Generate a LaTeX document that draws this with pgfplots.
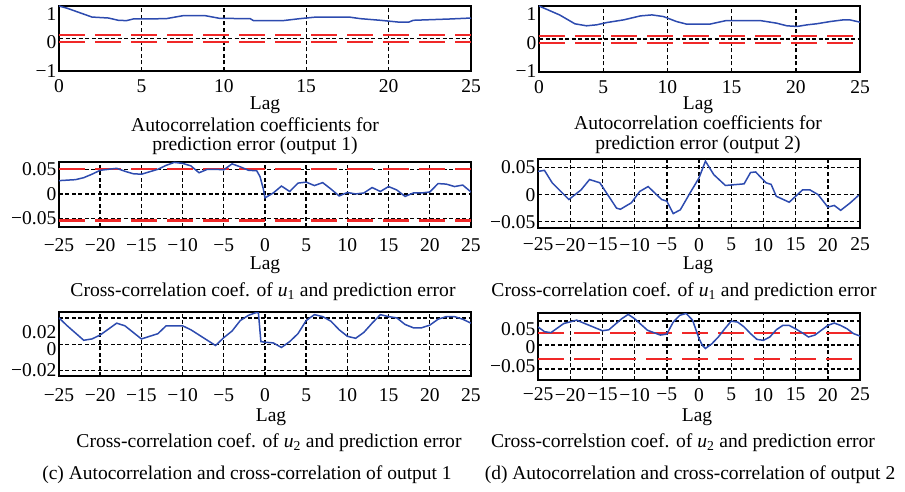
\documentclass[border=0pt]{standalone}
\usepackage{pgfplots}
\pgfplotsset{compat=1.18}
\usepackage{fontspec}
\setmainfont{Liberation Serif}
\definecolor{mblue}{RGB}{45,75,175}
\definecolor{mred}{RGB}{240,40,40}
\newcommand\fs{\fontsize{19.5}{21}\selectfont}
\newcommand\fc{\fontsize{19.6}{22}\selectfont}
\newcommand\fd{\fontsize{19.5}{22}\selectfont}
\pgfplotsset{
  panel/.style={
    scale only axis, anchor=south west,
    axis line style={line width=2.2pt, black},
    major tick length=0pt,
    xmajorgrids,
    scaled y ticks=false, scaled x ticks=false,
    major grid style={black, line width=1.4pt, dash pattern=on 4pt off 2.5pt},
    tick label style={font=\fs},
    yticklabel style={inner xsep=2.5pt, inner ysep=0pt},
    extra y tick style={grid=major},
    extra y tick labels={},
  },
  bl/.style={mblue, line width=1.5pt},
  rd/.style={mred, line width=2.2pt, dash pattern=on 26pt off 10pt},
  sym/.style={xmin=-25,xmax=25,xtick={-25,-20,...,25},
    xticklabels={−25,−20,−15,−10,−5,0,5,10,15,20,25}},
}
\begin{document}
\begin{tikzpicture}[x=1pt,y=1pt]
\useasboundingbox (0pt,0pt) rectangle (905pt,491pt);
% ---------- panel 1
\begin{axis}[panel, at={(59pt,420pt)}, width=412pt, height=65pt,
  xmin=0,xmax=25,ymin=-1,ymax=1,
  xtick={0,5,...,25}, xticklabels={0,5,10,15,20,25},
  ytick={-1,-0.108,0.754}, yticklabels={−1,0,1},
  extra y ticks={0}, xticklabel style={yshift=-5pt}]
\addplot[rd] coordinates {(0,0.117) (25,0.117)};
\addplot[rd] coordinates {(0,-0.117) (25,-0.117)};
\addplot[bl] coordinates {(0,1) (0.5,0.93) (1,0.84) (1.5,0.75) (2,0.66) (3,0.63) (3.6,0.56) (4.1,0.55) (4.5,0.6) (6.5,0.61) (7.5,0.7) (8.9,0.7) (9.75,0.62) (11.6,0.61) (11.8,0.55) (13.6,0.55) (14.6,0.61) (15.6,0.66) (17.6,0.66) (18.3,0.61) (19.5,0.56) (20.7,0.5) (21.2,0.5) (21.5,0.56) (23.7,0.6) (25,0.63)};
\end{axis}
% ---------- panel 2
\begin{axis}[panel, at={(539pt,419pt)}, width=321pt, height=66pt,
  xmin=0,xmax=25,ymin=-1,ymax=1,
  xtick={0,5,...,25}, xticklabels={0,5,10,15,20,25},
  ytick={-0.97,-0.112,0.758}, yticklabels={−1,0,1},
  extra y ticks={0}, xticklabel style={yshift=-5pt}]
\addplot[rd] coordinates {(0,0.09) (25,0.09)};
\addplot[rd] coordinates {(0,-0.13) (25,-0.13)};
\addplot[bl] coordinates {(0,1) (1.6,0.73) (2.8,0.46) (3.7,0.4) (4.5,0.43) (5.3,0.5) (6.6,0.58) (7.9,0.7) (8.8,0.73) (9.7,0.68) (10.7,0.53) (11.5,0.45) (13.3,0.45) (14.6,0.56) (17.2,0.56) (18.5,0.48) (19.3,0.4) (20.1,0.38) (20.9,0.43) (21.6,0.46) (22.7,0.53) (23.7,0.58) (24.2,0.58) (25,0.51)};
\end{axis}
% ---------- panel 3
\begin{axis}[panel, sym, at={(59pt,264pt)}, width=412pt, height=65pt,
  ymin=-0.067,ymax=0.0648,
  ytick={-0.05,0,0.05}, yticklabels={−0.05,0,0.05},
  extra y ticks={-0.05,0,0.05}, xticklabel style={yshift=-8pt}]
\addplot[rd] coordinates {(-25,0.05) (25,0.05)};
\addplot[rd] coordinates {(-25,-0.054) (25,-0.054)};
\addplot[bl] coordinates {(-25,0.027) (-24,0.028) (-23,0.029) (-22,0.033) (-21,0.04) (-20,0.048) (-19,0.05) (-18,0.052) (-17,0.046) (-16,0.041) (-15,0.04) (-14,0.045) (-13,0.05) (-12,0.058) (-11,0.064) (-10,0.062) (-9,0.057) (-8,0.043) (-7,0.05) (-6,0.05) (-5,0.049) (-4,0.061) (-3,0.055) (-2,0.048) (-1,0.047) (-0.6,0.035) (-0.2,0.01) (0,-0.008) (1,0.002) (2,0.016) (3,0.005) (4,0.022) (5,0.024) (6,0.017) (7,0.023) (8,0.01) (9,-0.004) (10,0.003) (11,0) (12,0.002) (13,0.013) (14,0.005) (15,0.015) (16,0.008) (17,-0.005) (18,0.002) (19,0.002) (20,0.004) (21,0.021) (22,0.02) (23,0.015) (24,0.018) (25,0.004)};
\end{axis}
% ---------- panel 4
\begin{axis}[panel, sym, at={(538pt,263pt)}, width=322pt, height=69pt,
  ymin=-0.0617,ymax=0.066,
  ytick={-0.05,0,0.05}, yticklabels={−0.05,0,0.05},
  extra y ticks={-0.05,0,0.05}, xticklabel style={yshift=-6.5pt}]
\addplot[bl] coordinates {(-25,0.043) (-24,0.045) (-22.8,0.022) (-20.2,-0.009) (-18.3,0.009) (-17,0.028) (-15.4,0.022) (-12.8,-0.025) (-12.2,-0.027) (-10.5,-0.015) (-9.2,0.006) (-7.9,0.015) (-5.8,-0.009) (-5,-0.012) (-4,-0.035) (-2.9,-0.028) (-1.4,0.003) (0,0.031) (1,0.062) (2.3,0.037) (4.1,0.017) (7,0.020) (8,0.041) (8.8,0.042) (10.4,0.022) (11.2,0.019) (12,-0.003) (14,-0.014) (16.1,0.009) (17.2,0.009) (18.5,0) (20,-0.023) (21,-0.020) (22,-0.029) (23.5,-0.015) (24.8,-0.001)};
\end{axis}
% ---------- panel 5
\begin{axis}[panel, sym, at={(59pt,115pt)}, width=412pt, height=64pt,
  ymin=-0.0242,ymax=0.0245,
  ytick={-0.0197,-0.004,0.0093}, yticklabels={−0.02,0,0.02},
  extra y ticks={-0.02,0,0.02}, xticklabel style={yshift=-9pt}]
\addplot[bl] coordinates {(-25,0.02) (-24,0.014) (-22,0.003) (-21,0.004) (-20,0.007) (-18,0.016) (-17,0.014) (-16,0.009) (-15,0.004) (-14,0.006) (-13,0.008) (-12,0.014) (-10,0.014) (-9,0.011) (-7,0.003) (-6,-0.001) (-5,0.005) (-4,0.01) (-3,0.018) (-2,0.022) (-1.1,0.024) (-0.8,0.024) (-0.5,0.002) (0,0.0015) (1,0.001) (2,-0.0025) (3,0.002) (4,0.008) (5,0.018) (6,0.0225) (7,0.021) (8,0.0175) (9,0.011) (10,0.006) (11,0.0045) (12,0.009) (13,0.016) (14,0.0225) (15,0.021) (16,0.02) (17,0.015) (18,0.0125) (19,0.0125) (20,0.0145) (21,0.019) (22,0.021) (23,0.021) (24,0.019) (25,0.016)};
\end{axis}
% ---------- panel 6
\begin{axis}[panel, sym, at={(538pt,111pt)}, width=322pt, height=67pt,
  ymin=-0.0725,ymax=0.0669,
  ytick={-0.043,-0.0035,0.033}, yticklabels={−0.05,0,0.05},
  extra y ticks={-0.05,0,0.05}, xticklabel style={yshift=-4.5pt}]
\addplot[rd] coordinates {(-25,0.0255) (25,0.0255)};
\addplot[rd] coordinates {(-25,-0.029) (25,-0.029)};
\addplot[bl] coordinates {(-25,0.038) (-24,0.028) (-23,0.026) (-21,0.045) (-19,0.052) (-17,0.041) (-15,0.03) (-14,0.032) (-12,0.055) (-11,0.064) (-10,0.055) (-8,0.031) (-6,0.021) (-5,0.023) (-4,0.048) (-3,0.062) (-2,0.066) (-1,0.052) (0,0.014) (0.5,0) (1,-0.007) (2,0.003) (3,0.017) (4,0.034) (5,0.05) (6,0.048) (7,0.038) (8,0.024) (9,0.012) (10,0.01) (11,0.017) (12,0.032) (13,0.041) (14,0.041) (15,0.034) (16,0.026) (17,0.017) (18,0.021) (19,0.031) (20,0.041) (21,0.046) (22,0.041) (23,0.034) (24,0.024) (25,0.019)};
\end{axis}
% ---------- texts
\begin{scope}[every node/.style={font=\fc, inner sep=0pt, anchor=center}]
\node[font=\fs] at (265pt,386pt) {Lag};
\node[font=\fs] at (698pt,386pt) {Lag};
\node at (255pt,366pt) {Autocorrelation coefficients for};
\node at (255pt,345pt) {prediction error (output 1)};
\node at (698pt,368pt) {Autocorrelation coefficients for};
\node at (698pt,346pt) {prediction error (output 2)};
\node[font=\fs] at (265pt,226pt) {Lag};
\node[font=\fs] at (698pt,226pt) {Lag};
\node at (263pt,199pt) {Cross-correlation coef. of \textit{u}\textsubscript{1} and prediction error};
\node at (684pt,199pt) {Cross-correlation coef. of \textit{u}\textsubscript{1} and prediction error};
\node[font=\fs] at (271pt,74pt) {Lag};
\node[font=\fs] at (697pt,74pt) {Lag};
\node at (269pt,48pt) {Cross-correlation coef. of \textit{u}\textsubscript{2} and prediction error};
\node at (683pt,48pt) {Cross-correlstion coef. of \textit{u}\textsubscript{2} and prediction error};
\node[font=\fd] at (247pt,16pt) {(c) Autocorrelation and cross-correlation of output 1};
\node[font=\fd] at (690pt,16pt) {(d) Autocorrelation and cross-correlation of output 2};
\end{scope}
\end{tikzpicture}
\end{document}
